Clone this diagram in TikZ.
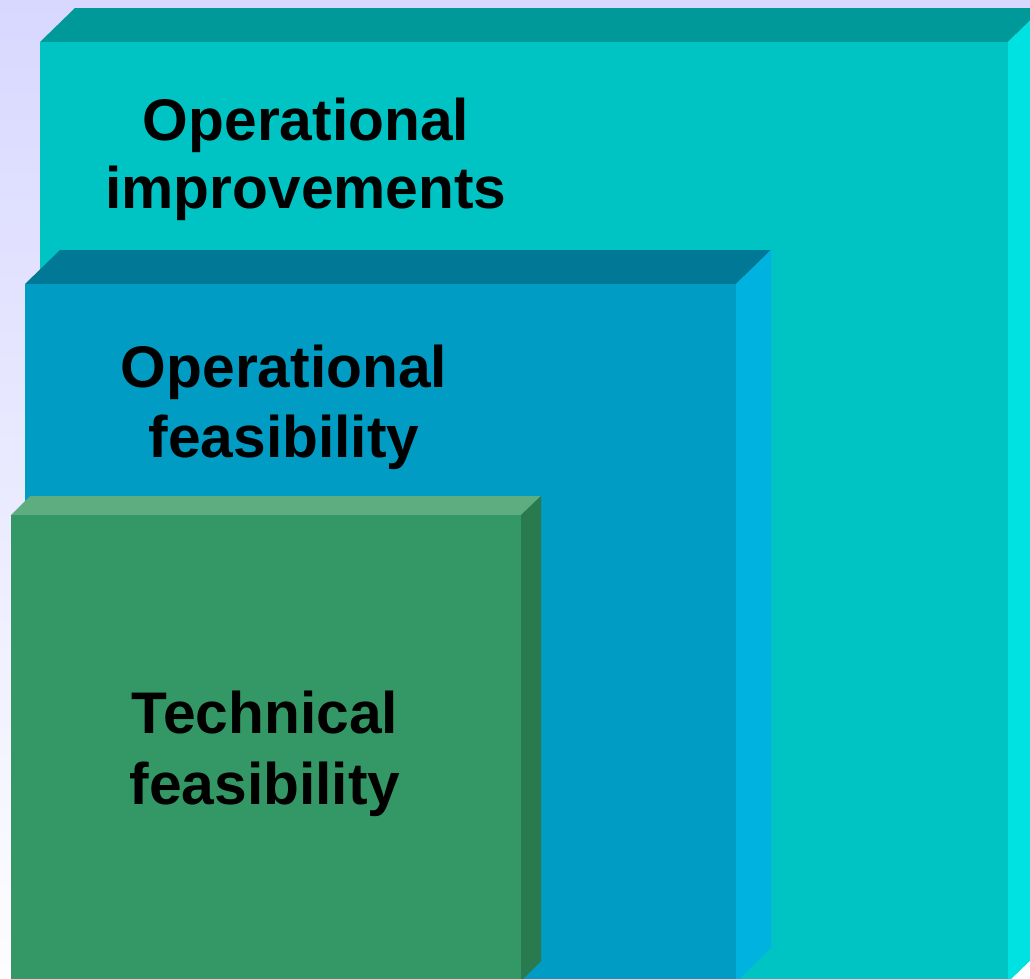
\documentclass[tikz,border=0pt]{standalone}
\usepackage{fontspec}
\setmainfont{Liberation Sans}
\definecolor{bgtop}{RGB}{216,216,255}
\definecolor{bgbot}{RGB}{253,253,255}
\definecolor{bigfront}{RGB}{0,196,196}
\definecolor{bigtop}{RGB}{0,153,153}
\definecolor{bigside}{RGB}{0,226,226}
\definecolor{midfront}{RGB}{0,156,196}
\definecolor{midtop}{RGB}{0,120,150}
\definecolor{midside}{RGB}{0,178,224}
\definecolor{smlfront}{RGB}{52,152,102}
\definecolor{smltop}{RGB}{94,173,128}
\definecolor{smlside}{RGB}{42,122,80}
\begin{document}
\begin{tikzpicture}[x=1pt,y=-1pt,
  lbl/.style={anchor=base,inner sep=0pt,font=\fontsize{58.7}{68}\selectfont\bfseries,text=black}]
\useasboundingbox (0,0) rectangle (1030,978);
\shade[top color=bgtop,bottom color=bgbot] (0,0) rectangle (1030,978);
% big box
\fill[bigtop] (40,42) -- (75,8) -- (1043,8) -- (1008,42) -- cycle;
\fill[bigside] (1008,42) -- (1043,8) -- (1043,948) -- (1008,982) -- cycle;
\fill[bigfront] (40,42) rectangle (1008,982);
% middle box
\fill[midtop] (25,284) -- (60,250) -- (771,250) -- (736,284) -- cycle;
\fill[midside] (736,284) -- (771,250) -- (771,948) -- (736,982) -- cycle;
\fill[midfront] (25,284) rectangle (736,982);
% small box
\fill[smltop] (11,515) -- (30,496) -- (541,496) -- (521,515) -- cycle;
\fill[smlside] (521,515) -- (541,496) -- (541,961) -- (521,981) -- cycle;
\fill[smlfront] (11,515) rectangle (521,982);
% labels
\node[lbl] (oi1) at (306,140) {Operational};
\node[lbl] (oi2) at (306,208) {improvements};
\node[lbl] (of1) at (284,387) {Operational};
\node[lbl] (of2) at (284,457) {feasibility};
\node[lbl] (tf1) at (265,733) {Technical};
\node[lbl] (tf2) at (265,804) {feasibility};
\end{tikzpicture}
\end{document}
